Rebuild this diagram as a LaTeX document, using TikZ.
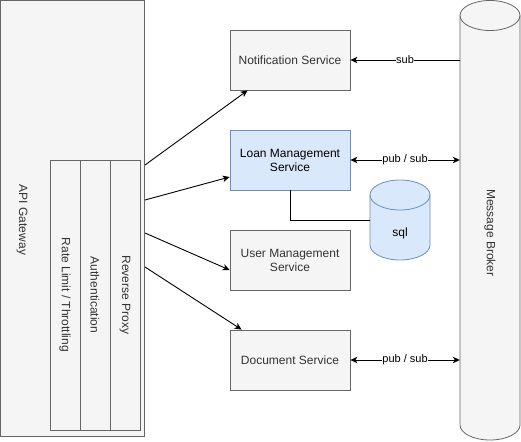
\documentclass[tikz,border=0pt]{standalone}
\usepackage{fontspec}
\setmainfont{Liberation Sans}
\usetikzlibrary{arrows.meta}
\definecolor{grayfill}{HTML}{F5F5F5}
\definecolor{graystroke}{HTML}{666666}
\definecolor{graytext}{HTML}{333333}
\definecolor{bluefill}{HTML}{DAE8FC}
\definecolor{bluestroke}{HTML}{6C8EBF}
\newcommand{\mycyl}[5]{%
  \pgfmathsetmacro{\cxa}{(#1+#3)/2}%
  \pgfmathsetmacro{\rxa}{(#3-#1)/2}%
  \pgfmathsetmacro{\kxa}{\rxa*0.5523}%
  \path[#5] (#1,#2+15) -- (#1,#4-15)
    .. controls (#1,#4-15+8.28) and (\cxa-\kxa,#4) .. (\cxa,#4)
    .. controls (\cxa+\kxa,#4) and (#3,#4-15+8.28) .. (#3,#4-15)
    -- (#3,#2+15)
    .. controls (#3,#2+15-8.28) and (\cxa+\kxa,#2) .. (\cxa,#2)
    .. controls (\cxa-\kxa,#2) and (#1,#2+15-8.28) .. (#1,#2+15) -- cycle;
  \path[#5,fill=none] (#1,#2+15)
    .. controls (#1,#2+15+8.28) and (\cxa-\kxa,#2+30) .. (\cxa,#2+30)
    .. controls (\cxa+\kxa,#2+30) and (#3,#2+15+8.28) .. (#3,#2+15);
}
\begin{document}
\begin{tikzpicture}[x=1pt,y=-1pt,
  gbox/.style={draw=graystroke,fill=grayfill,text=graytext,line width=0.8pt,
    minimum width=120pt,minimum height=60pt,align=center,inner sep=0pt,font=\fontsize{12}{14}\selectfont},
  bbox/.style={gbox,draw=bluestroke,fill=bluefill,text=black},
  gcol/.style={draw=graystroke,fill=grayfill,text=graytext,line width=0.8pt,rotate=-90,
    minimum width=270pt,minimum height=30pt,inner sep=0pt,font=\fontsize{12}{14}\selectfont},
  arr/.style={line width=0.9pt,-{Stealth[length=7pt,width=6.5pt,inset=2pt]}},
  darr/.style={line width=0.9pt,{Stealth[length=7pt,width=6.5pt,inset=2pt]}-{Stealth[length=7pt,width=6.5pt,inset=2pt]}},
  lbl/.style={fill=white,inner sep=0.5pt,font=\fontsize{11}{13}\selectfont}]
\useasboundingbox (0,0) rectangle (521,441);
% API gateway
\node[draw=graystroke,fill=grayfill,line width=0.8pt,minimum width=144pt,minimum height=436pt,inner sep=0pt] (api) at (72.75,218.75) {};
\node[rotate=-90,text=graytext,font=\fontsize{12}{14}\selectfont] (apilbl) at (22,220) {API Gateway};
\node[gcol] (rate) at (65,295) {Rate Limit / Throttling};
\node[gcol] (auth) at (95,295) {Authentication};
\node[gcol] (proxy) at (125,295) {Reverse Proxy};
% services
\node[gbox] (notif) at (290,60) {Notification Service};
\node[bbox] (loan) at (290,160) {Loan Management\\Service};
\node[gbox] (user) at (290,260) {User Management\\Service};
\node[gbox] (doc) at (290,360) {Document Service};
% message broker
\mycyl{460}{0.5}{520}{440}{draw=graystroke,fill=grayfill,line width=0.8pt}
\node[minimum width=60pt,minimum height=440pt,inner sep=0pt] (mb) at (490,220) {};
\node[rotate=-90,text=graytext,font=\fontsize{12}{14}\selectfont] (mblbl) at (490,233) {Message Broker};
% sql
\mycyl{370}{180}{430}{260}{draw=bluestroke,fill=bluefill,line width=0.8pt}
\node[minimum width=60pt,minimum height=80pt,inner sep=0pt] (sql) at (400,220) {};
\node[font=\fontsize{12}{14}\selectfont] (sqllbl) at (400,233) {sql};
% gateway connectors
\coordinate (g1) at (145,165);
\coordinate (g2) at (145,200);
\coordinate (g3) at (145,233);
\coordinate (g4) at (145,267);
\draw[arr] (g1) -- ([xshift=18pt]notif.south west);
\draw[arr] (g2) -- ([yshift=-17pt]loan.west);
\draw[arr] (g3) -- ([yshift=-10pt]user.west);
\draw[arr] (g4) -- ([xshift=12pt]doc.north west);
% broker connectors
\draw[arr] (notif.east -| mb.west) -- (notif.east) node[midway,lbl] {sub};
\draw[darr] (loan.east) -- (loan.east -| mb.west) node[midway,lbl] {pub / sub};
\draw[darr] (doc.east) -- (doc.east -| mb.west) node[midway,lbl] {pub / sub};
% loan to sql
\draw[line width=0.9pt] (loan.south) |- (sql.west);
\end{tikzpicture}
\end{document}
